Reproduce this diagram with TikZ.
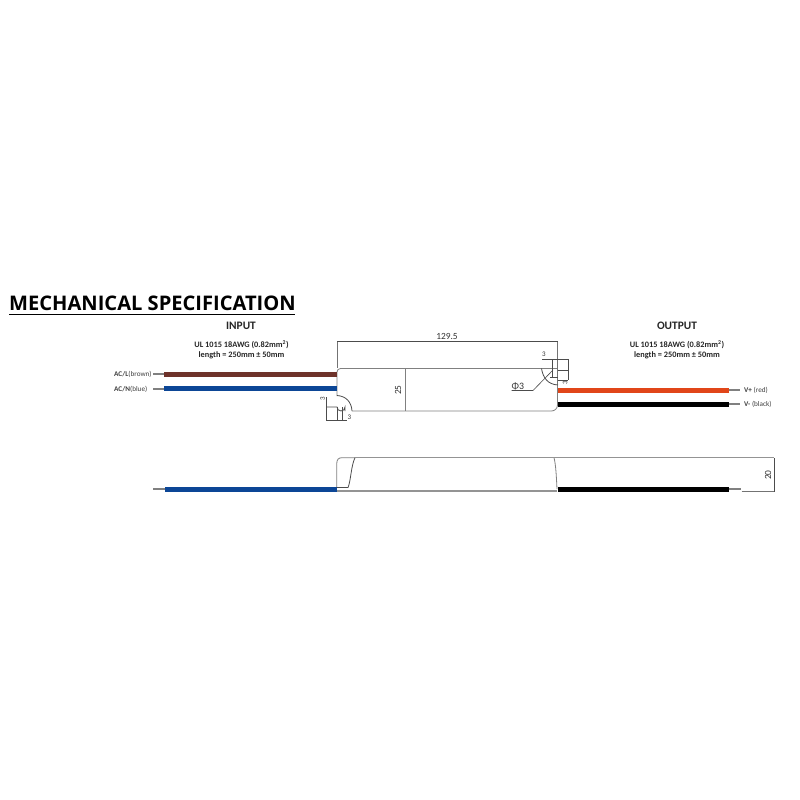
\documentclass[tikz,border=0pt]{standalone}
\usepackage{fontspec}
\setmainfont{Carlito}
\newfontfamily\titlefont{Open Sans}
\definecolor{wirebrown}{RGB}{110,50,42}
\definecolor{wireblue}{RGB}{12,70,150}
\definecolor{wirered}{RGB}{225,70,25}
\begin{document}
\begin{tikzpicture}[x=1pt,y=-1pt,
  lbl/.style={inner sep=0pt,font=\fontsize{8.3}{10}\selectfont\bfseries,text=black!85,align=center},
  head/.style={inner sep=0pt,font=\fontsize{11.4}{12}\selectfont\bfseries,text=black!85},
  tag/.style={inner sep=0pt,font=\fontsize{7.2}{8}\selectfont,text=black!75},
  dimtxt/.style={inner sep=0pt,font=\fontsize{9.4}{10}\selectfont,text=black!80},
  smalldim/.style={inner sep=0pt,font=\fontsize{7}{8}\selectfont,text=black!80},
  wire/.style={line width=5pt},
  strip/.style={line width=2pt,draw=black!50},
  body/.style={line width=1.1pt,draw=black!42},
  thinbody/.style={line width=.8pt,draw=black!50},
  detail/.style={line width=.8pt,draw=black!70},
  dim/.style={line width=.6pt,draw=black!70},
  ext/.style={line width=.7pt,draw=black!55}]
\useasboundingbox (0,0) rectangle (800,800);
\fill[white] (0,0) rectangle (800,800);
% title
\node[anchor=base west,inner sep=0pt,font=\titlefont\fontsize{20.1}{22}\selectfont\bfseries] (title) at (9,310) {MECHANICAL SPECIFICATION};
\draw[line width=1.4pt] (9,314.5) -- (295,314.5);
% headings
\node[head] (input) at (241,325.5) {INPUT};
\node[lbl] (inspec) at (241.5,350) {UL 1015 18AWG (0.82mm\textsuperscript{2})\\length = 250mm ± 50mm};
\node[head] (output) at (677,325.5) {OUTPUT};
\node[lbl] (outspec) at (677,350) {UL 1015 18AWG (0.82mm\textsuperscript{2})\\length = 250mm ± 50mm};
% tags
\node[tag,anchor=west] (acl) at (114,374.5) {\textbf{AC/L}(brown)};
\node[tag,anchor=west] (acn) at (114,389) {\textbf{AC/N}(blue)};
\node[tag,anchor=west] (vp) at (744,390) {\textbf{V+} (red)};
\node[tag,anchor=west] (vm) at (744,404) {\textbf{V-} (black)};
% top body
\draw[thinbody] (337,396) -- (337,372) arc[start angle=180,end angle=270,radius=3.5] -- (557.5,368.5) (557.5,385) -- (557.5,405) arc[start angle=0,end angle=90,radius=6] -- (352,411);
% wires top
\draw[strip] (153,374) -- (164,374);
\draw[strip] (153,388.7) -- (164,388.7);
\draw[wire,draw=wirebrown] (164,374) -- (336.5,374);
\draw[wire,draw=wireblue] (164,388.7) -- (336.5,388.7);
\draw[strip] (729,390.3) -- (740,390.3);
\draw[strip] (729,404) -- (740,404);
\draw[wire,draw=wirered] (558,390.3) -- (729,390.3);
\draw[wire,draw=black] (558,404) -- (729,404);
% 129.5 dim
\draw[ext] (337,368) -- (337,340.5);
\draw[ext] (557.5,385) -- (557.5,340.5);
\draw[dim] (337,341) -- (557.5,341);
\node[dimtxt] (w) at (447,336) {129.5};
% 25 dim
\draw[dim,draw=black!50] (405,369) -- (405,410.5);
\node[dimtxt,rotate=90] (h) at (398,390) {25};
% notch bottom-left
\draw[detail] (337,395.5) .. controls (346,396) and (351.5,402) .. (352,411);
\draw[detail] (327,407) -- (337,407) arc[start angle=180,end angle=0,radius=4] -- (345,411);
\draw[dim] (326.5,397) -- (326.5,421);
\draw[dim] (337,407) -- (337,421);
\draw[dim] (342,407) -- (342,421);
\draw[dim] (326.5,420.5) -- (347,420.5);
\node[smalldim] (n3a) at (349.5,417.5) {3};
\node[smalldim,rotate=90] (n3b) at (322.5,399) {3};
% notch top-right
\draw[detail] (541.5,368.5) .. controls (543,378) and (548,384.5) .. (558,385);
\draw[detail] (550,377) -- (557.5,377);
\draw[dim] (552,359) -- (552,378);
\draw[dim] (542,359) -- (568,359);
\draw[dim] (557.5,370) -- (568,370);
\draw[dim] (558,380) -- (568,380);
\draw[dim] (568,359) -- (568,380);
\node[smalldim] (n3c) at (544,354.5) {3};
\node[smalldim,rotate=90] (n3d) at (565,383) {3};
\node[dimtxt,anchor=base west,font=\fontsize{9.8}{10}\selectfont] (phi) at (511.5,389) {Φ3};
\draw[dim] (511.5,390.5) -- (533,390.5) -- (553,370);
% side view
\draw[thinbody] (336.7,488) -- (336.7,464) .. controls (336.7,459.5) and (338.5,457.7) .. (342,457.7) -- (355,457.7);
\draw[detail] (355,457.7) .. controls (351,466) and (351,480) .. (348,487.7);
\draw[detail] (337,487.7) -- (348,487.7);
\draw[thinbody] (554,457.7) .. controls (556,465) and (556.5,480) .. (557,489);
\draw[body] (354,457.7) -- (774,457.7);
\draw[strip] (153,489) -- (165,489);
\draw[wire,draw=wireblue] (165,489) -- (336.7,489);
\draw[body,line width=1.4pt] (337,491) -- (557,491);
\draw[strip] (729,489) -- (740.5,489);
\draw[wire,draw=black] (558,489) -- (729,489);
\draw[ext] (741.5,491.7) -- (774,491.7);
\draw[dim] (774,458) -- (774,491.7);
\node[dimtxt,rotate=90] (d) at (768,475) {20};
\end{tikzpicture}
\end{document}
